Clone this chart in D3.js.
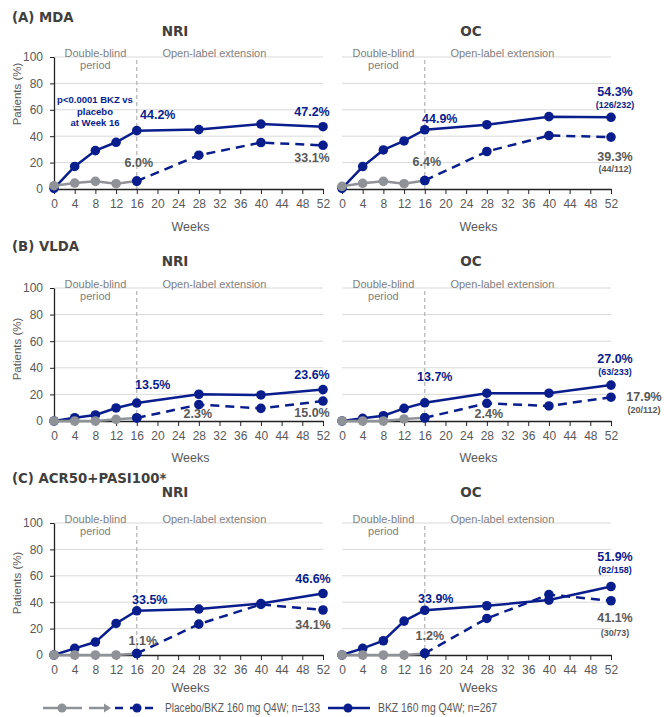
<!DOCTYPE html>
<html><head><meta charset="utf-8">
<script src="https://cdn.jsdelivr.net/npm/d3@7"></script>
<style>body{margin:0;background:#fff;}svg{display:block;}</style>
</head><body>
<svg id="chart" width="664" height="717"></svg>
<script>
// ---------------- DATA ----------------
const weeks = [0, 4, 8, 12, 16, 28, 40, 52];
const xTicks = [0, 4, 8, 12, 16, 20, 24, 28, 32, 36, 40, 44, 48, 52];
const yTicks = [0, 20, 40, 60, 80, 100];
const panelTitles = ["(A) MDA", "(B) VLDA", "(C) ACR50+PASI100*"];
const methodTitles = ["NRI", "OC"];

const mdaNriBkz  = [0.5, 17.1, 29.1, 35.4, 44.2, 45.0, 49.2, 47.2];
const mdaNriPbo  = [2.5, 4.5, 5.8, 4.0, 6.0, 25.6, 35.2, 33.1];
const mdaOcBkz   = [0.5, 17.0, 29.6, 36.4, 44.9, 48.7, 54.8, 54.3];
const mdaOcPbo   = [2.0, 4.3, 5.8, 4.0, 6.4, 28.4, 40.5, 39.3];
const vldaNriBkz = [0, 2.5, 4.5, 9.8, 13.5, 20.1, 19.6, 23.6];
const vldaNriPbo = [0, 0, 0, 1.3, 2.3, 12.3, 9.5, 15.0];
const vldaOcBkz  = [0, 2.0, 4.0, 9.5, 13.7, 20.9, 20.9, 27.0];
const vldaOcPbo  = [0, 0, 0, 1.5, 2.4, 13.3, 11.3, 17.9];
const acrNriBkz  = [0, 5.0, 9.8, 23.9, 33.5, 34.8, 39.0, 46.6];
const acrNriPbo  = [0, 0, 0, 0, 1.1, 23.4, 38.3, 34.1];
const acrOcBkz   = [0, 5.0, 10.8, 25.7, 33.9, 37.3, 41.6, 51.9];
const acrOcPbo   = [0, 0, 0, 0, 1.2, 27.7, 45.8, 41.1];

// OC week-52 counts (BKZ, placebo) per panel
const ocBkzCounts = ["(126/232)", "(63/233)", "(82/158)"];
const ocPboCounts = ["(44/112)", "(20/112)", "(30/73)"];

const pValueText = ["p<0.0001 BKZ vs", "placebo", "at Week 16"];
const legendLabels = ["Placebo/BKZ 160 mg Q4W; n=133", "BKZ 160 mg Q4W; n=267"];

// ---------------- STYLE / LAYOUT ----------------
const BLUE = "#0a1d8c", GRAY = "#8f9397", TXT = "#595959", DARK = "#404040";
const SANS = "'Liberation Sans', Arial, sans-serif";
const BOLDT = "'DejaVu Sans', Verdana, sans-serif";
const plotW = 269;

const panels = [
  { y100: 57, y0: 189, titleY: 22, subY: 36, weeksY: 231, ylabY: 94,
    nri: { bkz: mdaNriBkz, pbo: mdaNriPbo }, oc: { bkz: mdaOcBkz, pbo: mdaOcPbo },
    nriLab: [{ s: "bkz", i: 4, dx: 21, dy: -16 }, { s: "bkz", i: 7, dx: -11, dy: -15 },
             { s: "pbo", i: 4, dx: 2, dy: -19 }, { s: "pbo", i: 7, dx: -11, dy: 12 }],
    ocLab:  [{ s: "bkz", i: 4, dx: 15, dy: -11 }, { s: "bkz", i: 7, dx: 4, dy: -26, sub: -13 },
             { s: "pbo", i: 4, dx: 2, dy: -19 }, { s: "pbo", i: 7, dx: 4, dy: 19, sub: 32 }],
    pvalue: true },
  { y100: 288, y0: 421, titleY: 251, subY: 266, weeksY: 462, ylabY: 349,
    nri: { bkz: vldaNriBkz, pbo: vldaNriPbo }, oc: { bkz: vldaOcBkz, pbo: vldaOcPbo },
    nriLab: [{ s: "bkz", i: 4, dx: 16, dy: -19 }, { s: "bkz", i: 7, dx: -11, dy: -15 },
             { s: "pbo", i: 4, dx: 61, dy: -4 }, { s: "pbo", i: 7, dx: -11, dy: 11 }],
    ocLab:  [{ s: "bkz", i: 4, dx: 10, dy: -26 }, { s: "bkz", i: 7, dx: 4, dy: -27, sub: -13 },
             { s: "pbo", i: 4, dx: 64, dy: -4 }, { s: "pbo", i: 7, dx: 33, dy: -1, sub: 13 }] },
  { y100: 523, y0: 655, titleY: 483, subY: 497, weeksY: 692, ylabY: 583,
    nri: { bkz: acrNriBkz, pbo: acrNriPbo }, oc: { bkz: acrOcBkz, pbo: acrOcPbo },
    nriLab: [{ s: "bkz", i: 4, dx: 13, dy: -11 }, { s: "bkz", i: 7, dx: -10, dy: -15 },
             { s: "pbo", i: 4, dx: 6, dy: -13 }, { s: "pbo", i: 7, dx: -10, dy: 15 }],
    ocLab:  [{ s: "bkz", i: 4, dx: 11, dy: -12 }, { s: "bkz", i: 7, dx: 4, dy: -30, sub: -17 },
             { s: "pbo", i: 4, dx: 5, dy: -18 }, { s: "pbo", i: 7, dx: 4, dy: 17, sub: 32 }] }
];

const svg = d3.select("#chart");
const fmt = d3.format(".1f");

function drawSub(p, pi, which) {
  const isNri = which === "nri";
  const x0 = isNri ? 54 : 342;
  const d = p[which];
  const x = d3.scaleLinear().domain([0, 52]).range([x0, x0 + plotW]);
  const y = d3.scaleLinear().domain([0, 100]).range([p.y0, p.y100]);
  const g = svg.append("g");

  // gridlines
  g.selectAll("line.grid").data(yTicks.filter(t => t > 0)).join("line")
    .attr("x1", x(0)).attr("x2", x(52)).attr("y1", t => y(t)).attr("y2", t => y(t))
    .attr("stroke", "#d9d9d9").attr("stroke-width", 1);

  // method title
  g.append("text").attr("x", x0 + (isNri ? 121 : 129)).attr("y", p.subY)
    .attr("text-anchor", "middle").attr("font-family", BOLDT).attr("font-weight", "bold")
    .attr("font-size", 13.5).attr("fill", DARK).text(methodTitles[isNri ? 0 : 1]);

  // period texts
  const pt = g.append("g").attr("font-family", SANS).attr("font-size", 11)
    .attr("fill", "#7f7f7f").attr("text-anchor", "middle");
  pt.append("text").attr("x", x(8)).attr("y", p.y100 - 0.5).text("Double-blind");
  pt.append("text").attr("x", x(8)).attr("y", p.y100 + 12).text("period");
  pt.append("text").attr("x", x(31)).attr("y", p.y100 - 0.5).text("Open-label extension");

  // vertical dashed line at week 16
  g.append("line").attr("x1", x(16)).attr("x2", x(16)).attr("y1", p.y100 + 3).attr("y2", p.y0)
    .attr("stroke", "#b0b0b0").attr("stroke-width", 1.2).attr("stroke-dasharray", "4,3");

  // x axis
  const xa = g.append("g").attr("transform", `translate(0,${p.y0})`)
    .call(d3.axisBottom(x).tickValues(xTicks).tickSize(5).tickSizeOuter(0).tickPadding(5.5));
  xa.select(".domain").attr("stroke", "#222").attr("stroke-width", 1.3);
  xa.selectAll(".tick line").attr("stroke", "#222");
  xa.selectAll("text").attr("font-family", SANS).attr("font-size", 12).attr("fill", TXT);

  if (isNri) {
    const ya = g.append("g").attr("transform", `translate(${x0},0)`)
      .call(d3.axisLeft(y).tickValues(yTicks).tickSize(4).tickSizeOuter(0).tickPadding(7));
    ya.select(".domain").attr("stroke", "#222").attr("stroke-width", 1.3);
    ya.selectAll(".tick line").attr("stroke", "#222");
    ya.selectAll("text").attr("font-family", SANS).attr("font-size", 12).attr("fill", TXT);
    g.append("text").attr("transform", `translate(21,${p.ylabY}) rotate(-90)`)
      .attr("text-anchor", "middle").attr("font-family", SANS).attr("font-size", 11.5)
      .attr("fill", TXT).text("Patients (%)");
  }

  // Weeks label
  g.append("text").attr("x", x(26) + 2).attr("y", p.weeksY).attr("text-anchor", "middle")
    .attr("font-family", SANS).attr("font-size", 12.5).attr("fill", TXT).text("Weeks");

  const pts = arr => arr.map((v, i) => ({ w: weeks[i], v }));
  const line = d3.line().x(q => x(q.w)).y(q => y(q.v));
  const bkz = pts(d.bkz), pbo = pts(d.pbo);
  const pboDb = pbo.slice(0, 5), pboOl = pbo.slice(4);

  // BKZ solid
  g.append("path").attr("d", line(bkz)).attr("fill", "none").attr("stroke", BLUE).attr("stroke-width", 2.5);
  g.selectAll("circle.bkz").data(bkz).join("circle").attr("cx", q => x(q.w)).attr("cy", q => y(q.v))
    .attr("r", 4.8).attr("fill", BLUE);
  // placebo -> BKZ dashed
  g.append("path").attr("d", line(pboOl)).attr("fill", "none").attr("stroke", BLUE)
    .attr("stroke-width", 2.5).attr("stroke-dasharray", "9,6");
  g.selectAll("circle.pol").data(pboOl).join("circle").attr("cx", q => x(q.w)).attr("cy", q => y(q.v))
    .attr("r", 4.8).attr("fill", BLUE);
  // placebo double-blind gray
  g.append("path").attr("d", line(pboDb)).attr("fill", "none").attr("stroke", GRAY).attr("stroke-width", 2.5);
  g.selectAll("circle.pdb").data(pboDb.slice(0, 4)).join("circle").attr("cx", q => x(q.w)).attr("cy", q => y(q.v))
    .attr("r", 4.8).attr("fill", GRAY);
  // redraw week-16 placebo point in blue on top
  g.append("circle").attr("cx", x(16)).attr("cy", y(d.pbo[4])).attr("r", 4.8).attr("fill", BLUE);

  // value labels
  const labs = isNri ? p.nriLab : p.ocLab;
  labs.forEach(L => {
    const arr = L.s === "bkz" ? d.bkz : d.pbo;
    const col = L.s === "bkz" ? BLUE : TXT;
    const px = x(weeks[L.i]) + L.dx, py = y(arr[L.i]) + L.dy;
    g.append("text").attr("x", px).attr("y", py).attr("dy", "0.36em").attr("text-anchor", "middle")
      .attr("font-family", SANS).attr("font-weight", "bold").attr("font-size", 12.5)
      .attr("fill", col).text(fmt(arr[L.i]) + "%");
    if (L.sub !== undefined) {
      g.append("text").attr("x", px).attr("y", y(arr[L.i]) + L.sub).attr("dy", "0.36em")
        .attr("text-anchor", "middle").attr("font-family", SANS).attr("font-weight", "bold")
        .attr("font-size", 9).attr("fill", col)
        .text(L.s === "bkz" ? ocBkzCounts[pi] : ocPboCounts[pi]);
    }
  });

  if (isNri && p.pvalue) {
    const pv = g.append("g").attr("font-family", SANS).attr("font-weight", "bold").attr("font-size", 9.5)
      .attr("fill", BLUE).attr("text-anchor", "middle");
    pv.selectAll("text").data(pValueText).join("text")
      .attr("x", 95).attr("y", (t, i) => p.y100 + 46 + i * 11.5).text(t => t);
  }
}

panels.forEach((p, pi) => {
  svg.append("text").attr("x", 12).attr("y", p.titleY).attr("font-family", BOLDT)
    .attr("font-weight", "bold").attr("font-size", 13.3).attr("fill", DARK).text(panelTitles[pi]);
  drawSub(p, pi, "nri");
  drawSub(p, pi, "oc");
});

// ---------------- LEGEND ----------------
const ly = 708;
const lg = svg.append("g");
lg.append("line").attr("x1", 43).attr("x2", 82).attr("y1", ly).attr("y2", ly).attr("stroke", GRAY).attr("stroke-width", 2.5);
lg.append("circle").attr("cx", 62).attr("cy", ly).attr("r", 4.5).attr("fill", GRAY);
lg.append("line").attr("x1", 89).attr("x2", 105).attr("y1", ly).attr("y2", ly).attr("stroke", GRAY).attr("stroke-width", 2.5);
lg.append("path").attr("d", `M104,${ly - 4.5} L111,${ly} L104,${ly + 4.5} Z`).attr("fill", GRAY);
lg.append("line").attr("x1", 115).attr("x2", 153).attr("y1", ly).attr("y2", ly).attr("stroke", BLUE)
  .attr("stroke-width", 2.5).attr("stroke-dasharray", "8,7");
lg.append("circle").attr("cx", 137).attr("cy", ly).attr("r", 4.5).attr("fill", BLUE);
lg.append("text").attr("x", 165).attr("y", ly).attr("dy", "0.36em").attr("font-family", SANS)
  .attr("font-size", 12).attr("fill", TXT).attr("textLength", 155).attr("lengthAdjust", "spacingAndGlyphs")
  .text(legendLabels[0]);
lg.append("line").attr("x1", 328).attr("x2", 370).attr("y1", ly).attr("y2", ly).attr("stroke", BLUE).attr("stroke-width", 2.5);
lg.append("circle").attr("cx", 348).attr("cy", ly).attr("r", 4.5).attr("fill", BLUE);
lg.append("text").attr("x", 378).attr("y", ly).attr("dy", "0.36em").attr("font-family", SANS)
  .attr("font-size", 12).attr("fill", TXT).attr("textLength", 119).attr("lengthAdjust", "spacingAndGlyphs")
  .text(legendLabels[1]);
</script>
</body></html>
